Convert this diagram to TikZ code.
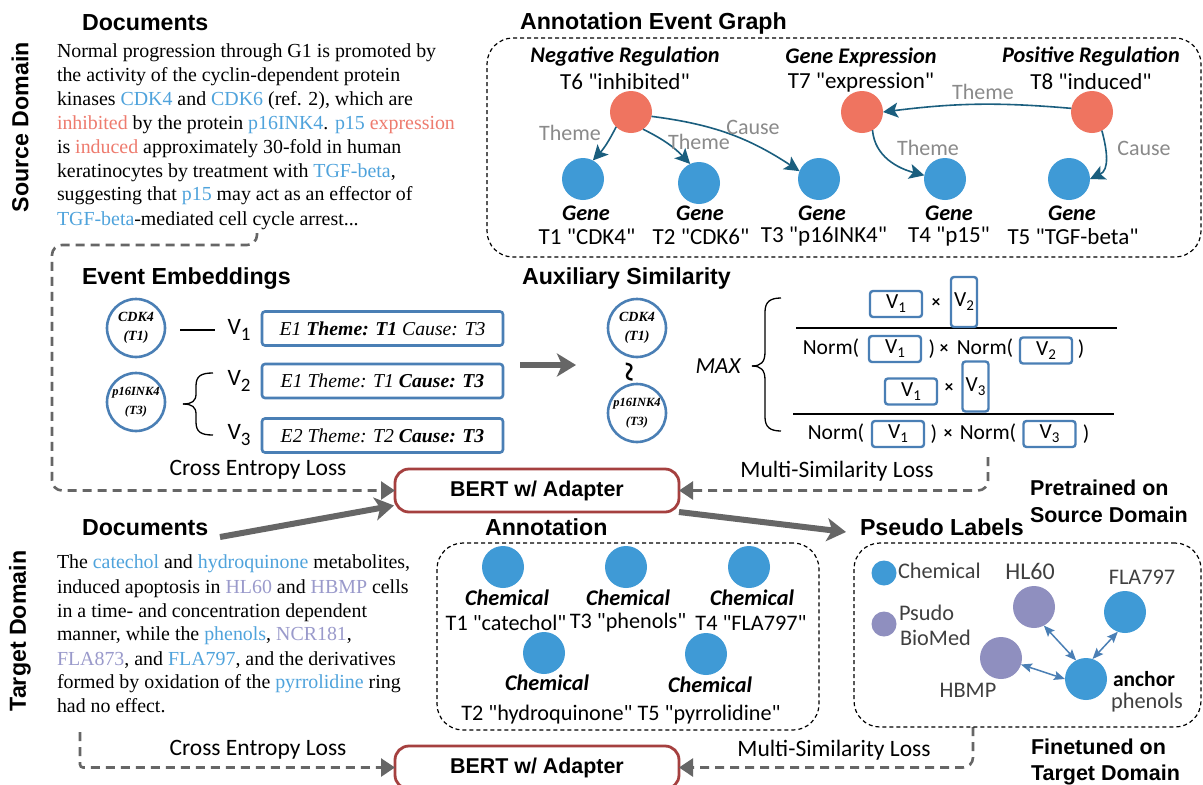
\documentclass[tikz,border=0pt]{standalone}
\usepackage{fontspec}
\setmainfont{Liberation Serif}
\newfontfamily\hdrfont{Liberation Sans}
\newfontfamily\comicfont{Carlito}
\usetikzlibrary{arrows.meta,calc}
\definecolor{cblue}{HTML}{3F9AD6}
\definecolor{cred}{HTML}{EF7460}
\definecolor{cpurple}{HTML}{8F8FBF}
\definecolor{tblue}{HTML}{4FA3DC}
\definecolor{tred}{HTML}{EE7B6E}
\definecolor{tpurple}{HTML}{9A9ACB}
\definecolor{edgeteal}{HTML}{1A5E7E}
\definecolor{boxblue}{HTML}{4A7FB5}
\definecolor{bertred}{HTML}{A5403F}
\definecolor{dgrey}{HTML}{666666}
\definecolor{lblgrey}{HTML}{8A8A8A}
\newcommand{\tb}[1]{\textcolor{tblue}{#1}}
\newcommand{\tr}[1]{\textcolor{tred}{#1}}
\newcommand{\tp}[1]{\textcolor{tpurple}{#1}}
\newcommand{\Vv}[1]{V\raisebox{-4pt}{\fontsize{15}{15}\selectfont #1}}
\newcommand{\Vb}[1]{V\raisebox{-6pt}{\fontsize{19}{19}\selectfont #1}}
\tikzset{
  every node/.style={inner sep=0pt,outer sep=0pt},
  hdr/.style={font=\hdrfont\bfseries\fontsize{23.2}{25}\selectfont,anchor=base west},
  hdrb/.style={font=\hdrfont\bfseries\fontsize{21.5}{23}\selectfont,anchor=base west},
  domlabel/.style={font=\hdrfont\bfseries\fontsize{23.2}{25}\selectfont,rotate=90},
  docline/.style={font=\fontsize{19.9}{21}\selectfont,anchor=base west},
  comic/.style={font=\comicfont\fontsize{21.5}{23}\selectfont},
  comicg/.style={font=\comicfont\fontsize{23}{25}\selectfont},
  comica/.style={font=\comicfont\fontsize{22.2}{24}\selectfont},
  comicl/.style={font=\comicfont\fontsize{23.5}{25}\selectfont},
  comicp/.style={font=\comicfont\fontsize{22.3}{24}\selectfont,text=black!75},
  typed/.style={font=\comicfont\bfseries\itshape\fontsize{22.3}{24}\selectfont},
  elabel/.style={font=\comicfont\fontsize{22}{24}\selectfont,text=lblgrey},
  evnode/.style={circle,fill=cred,minimum size=42pt},
  gnode/.style={circle,fill=cblue,minimum size=42pt},
  pnode/.style={circle,fill=cpurple,minimum size=42pt},
  evedge/.style={draw=edgeteal,line width=1.6pt,-{Stealth[length=15pt,width=15pt,inset=3.5pt]}},
  dbl/.style={draw=boxblue,line width=1.5pt,{Stealth[length=11pt,width=9pt,inset=2pt]}-{Stealth[length=11pt,width=9pt,inset=2pt]}},
  ent/.style={circle,draw=boxblue,line width=2.6pt,minimum size=58pt,align=center,font=\bfseries\itshape\fontsize{14}{19}\selectfont},
  entsm/.style={ent,font=\bfseries\itshape\fontsize{12.5}{19}\selectfont},
  evbox/.style={rectangle,rounded corners=3pt,draw=boxblue,line width=2.6pt,minimum width=241pt,minimum height=34pt,font=\itshape\fontsize{19.7}{22}\selectfont},
  vbox/.style={rectangle,rounded corners=3pt,draw=boxblue,line width=2.4pt,minimum width=52pt,minimum height=26pt,comic},
  vtall/.style={rectangle,rounded corners=3pt,draw=boxblue,line width=2.4pt,minimum width=26pt,minimum height=50pt,comic},
  bert/.style={rectangle,rounded corners=14pt,draw=bertred,line width=2.8pt,fill=white,minimum width=284pt,minimum height=43pt,font=\hdrfont\bfseries\fontsize{21.4}{23}\selectfont},
  dashbox/.style={rectangle,rounded corners=26pt,draw=black,line width=1.2pt,dash pattern=on 4pt off 3pt},
  dashflow/.style={draw=dgrey,line width=2.6pt,dash pattern=on 9pt off 6pt,rounded corners=10pt,-{Triangle[length=14pt,width=18pt]}},
  bigarrow/.style={draw=dgrey,line width=6pt,-{Stealth[length=19pt,width=23pt,inset=5pt]}},
  bracepath/.style={draw=black,line width=1.3pt},
  rulepath/.style={draw=black,line width=1.3pt},
  sym/.style={font=\comicfont\bfseries\fontsize{17}{18}\selectfont},
}
\begin{document}
\begin{tikzpicture}[x=1pt,y=-1pt]
\useasboundingbox (0,0) rectangle (1203,785);
\clip (0,0) rectangle (1203,785);
\fill[white] (0,0) rectangle (1203,785);
% domain labels
\node[domlabel] (srcdom) at (20,127) {Source Domain};
\node[domlabel] (tgtdom) at (20,631) {Target Domain};
% headers
\node[hdr] (h1) at (82,30) {Documents};
\node[hdr] (h2) at (520,29) {Annotation Event Graph};
\node[hdr] (h3) at (82,284) {Event Embeddings};
\node[hdr] (h4) at (522,284) {Auxiliary Similarity};
\node[hdr] (h5) at (82,535) {Documents};
\node[hdr] (h6) at (485,535) {Annotation};
\node[hdr] (h7) at (860,535) {Pseudo Labels};
\node[hdrb] (h8) at (1030,495) {Pretrained on};
\node[hdrb] (h9) at (1030,522) {Source Domain};
\node[hdrb] (h10) at (1031,754) {Finetuned on};
\node[hdrb] (h11) at (1031,780) {Target Domain};
% source document
\node[docline] (s1) at (57,57) {Normal progression through G1 is promoted by};
\node[docline] (s2) at (57,81) {the activity of the cyclin-dependent protein};
\node[docline] (s3) at (57,105.5) {kinases \tb{CDK4} and \tb{CDK6} (ref. 2), which are};
\node[docline] (s4) at (57,129) {\tr{inhibited} by the protein \tb{p16INK4}. \tb{p15} \tr{expression}};
\node[docline] (s5) at (57,153) {is \tr{induced} approximately 30-fold in human};
\node[docline] (s6) at (57,177) {keratinocytes by treatment with \tb{TGF-beta},};
\node[docline] (s7) at (57,200) {suggesting that \tb{p15} may act as an effector of};
\node[docline] (s8) at (57,225) {\tb{TGF-beta}-mediated cell cycle arrest...};
% target document
\node[docline] (t1) at (57,568) {The \tb{catechol} and \tb{hydroquinone} metabolites,};
\node[docline] (t2) at (57,593) {induced apoptosis in \tp{HL60} and \tp{HBMP} cells};
\node[docline] (t3) at (57,617) {in a time- and concentration dependent};
\node[docline] (t4) at (57,640) {manner, while the \tb{phenols}, \tp{NCR181},};
\node[docline] (t5) at (57,665) {\tp{FLA873}, and \tb{FLA797}, and the derivatives};
\node[docline] (t6) at (57,688) {formed by oxidation of the \tb{pyrrolidine} ring};
\node[docline] (t7) at (57,712) {had no effect.};
% annotation event graph
\node[dashbox,minimum width=714pt,minimum height=219pt] (agbox) at (844,147.5) {};
\node[evnode] (e6) at (631,112) {};
\node[evnode] (e7) at (862,112) {};
\node[evnode] (e8) at (1092,112) {};
\node[gnode] (g1) at (583,179) {};
\node[gnode] (g2) at (699,183) {};
\node[gnode] (g3) at (819,179) {};
\node[gnode] (g4) at (945,179) {};
\node[gnode] (g5) at (1069,179) {};
\node[typed] (n6) at (625,57) {Negative Regulation};
\node[typed] (n7) at (861,57) {Gene Expression};
\node[typed] (n8) at (1091,57) {Positive Regulation};
\node[comicg] (m6) at (625,82) {T6 "inhibited"};
\node[comicg] (m7) at (861,82) {T7 "expression"};
\node[comicg] (m8) at (1091,82) {T8 "induced"};
\node[typed] (gt1) at (586,213) {Gene};
\node[typed] (gt2) at (700,213) {Gene};
\node[typed] (gt3) at (822,213) {Gene};
\node[typed] (gt4) at (949,213) {Gene};
\node[typed] (gt5) at (1072,213) {Gene};
\node[comicg] (gm1) at (587,237) {T1 "CDK4"};
\node[comicg] (gm2) at (701,237) {T2 "CDK6"};
\node[comicg] (gm3) at (824,237) {T3 "p16INK4"};
\node[comicg] (gm4) at (949,237) {T4 "p15"};
\node[comicg] (gm5) at (1073,237) {T5 "TGF-beta"};
\draw[evedge] (e6.225) to[bend left=8] (g1.62);
\draw[evedge] (e6.305) to[bend left=10] (g2.115);
\draw[evedge] (e6.-12) to[bend left=13] (g3.158);
\draw[evedge] (e8.170) to[bend right=6] (e7.east);
\draw[evedge] (e7.-60) to[out=-85,in=165] (g4.170);
\draw[evedge] (e8.-62) to[out=-75,in=25,looseness=1.1] (g5.east);
\node[elabel] (l1) at (570,133) {Theme};
\node[elabel] (l2) at (699,142) {Theme};
\node[elabel] (l3) at (753,127) {Cause};
\node[elabel] (l4) at (983,92) {Theme};
\node[elabel] (l5) at (928,148) {Theme};
\node[elabel] (l6) at (1144,148) {Cause};
% event embeddings
\node[ent] (c1) at (136,328) {CDK4\\(T1)};
\node[entsm] (c3) at (136,402) {p16INK4\\(T3)};
\node[comicl] (v1) at (239,330) {\Vb{1}};
\node[comicl] (v2) at (239,381) {\Vb{2}};
\node[comicl] (v3) at (239,435) {\Vb{3}};
\node[evbox] (b1) at (382.5,328.5) {E1 \textbf{Theme: T1} Cause: T3};
\node[evbox] (b2) at (382.5,381) {E1 Theme: T1 \textbf{Cause: T3}};
\node[evbox] (b3) at (382.5,435.5) {E2 Theme: T2 \textbf{Cause: T3}};
\draw[black,line width=1.3pt] ($(c1.east)+(15,2)$) -- ($(v1.west)+(-13,0)$);
\draw[bracepath] (213,373) .. controls (201,373) and (196,376) .. (196,386) -- (196,394) .. controls (196,401) and (192,404) .. (183,404);
\draw[bracepath] (213,435) .. controls (201,435) and (196,432) .. (196,422) -- (196,414) .. controls (196,407) and (192,404) .. (183,404);
\coordinate (sa) at (520,365);
\coordinate (sb) at (576,365);
\draw[bigarrow] (sa) -- (sb);
\node[ent] (c1b) at (637,328) {CDK4\\(T1)};
\node[entsm] (c3b) at (637,413) {p16INK4\\(T3)};
\node[rotate=90,font=\bfseries\fontsize{36}{36}\selectfont] (tilde) at (634,372) {\char`\~};
% similarity formula
\node[font=\comicfont\itshape\fontsize{23}{25}\selectfont] (mx) at (718,366) {MAX};
\draw[bracepath] (781,298) .. controls (770,298) and (765,302) .. (765,312) -- (765,352) .. controls (765,362) and (761,366) .. (752,366);
\draw[bracepath] (781,431) .. controls (770,431) and (765,427) .. (765,417) -- (765,380) .. controls (765,370) and (761,366) .. (752,366);
\draw[rulepath] (796,328) -- (1117,328);
\draw[rulepath] (793,414) -- (1114,414);
\node[vbox] (f1) at (896,304) {\Vv{1}};
\node[sym] (fx1) at (936,303) {×};
\node[vtall] (f2) at (964,302) {\Vv{2}};
\node[comic] (fn1) at (831,348) {Norm(};
\node[vbox] (f3) at (895,349) {\Vv{1}};
\node[comic] (fc1) at (932,349) {)};
\node[sym] (fx2) at (944,349) {×};
\node[comic] (fn2) at (985,348) {Norm(};
\node[vbox] (f4) at (1046,350.5) {\Vv{2}};
\node[comic] (fc2) at (1081,349) {)};
\node[vbox] (f5) at (911,391.5) {\Vv{1}};
\node[sym] (fx3) at (949,388) {×};
\node[vtall] (f6) at (975.5,386.5) {\Vv{3}};
\node[comic] (fn3) at (836,433) {Norm(};
\node[vbox] (f7) at (898,434) {\Vv{1}};
\node[comic] (fc3) at (934,434) {)};
\node[sym] (fx4) at (948,434) {×};
\node[comic] (fn4) at (988,433) {Norm(};
\node[vbox] (f8) at (1049.5,434) {\Vv{3}};
\node[comic] (fc4) at (1086,434) {)};
% BERT
\node[bert] (bert1) at (537,490.5) {\raisebox{-1pt}{BERT w/ Adapter}};
\node[bert] (bert2) at (537,767.5) {\raisebox{-2pt}{BERT w/ Adapter}};
\node[comicl] (ce1) at (258,470) {Cross Entropy Loss};
\node[comicl] (ms1) at (837,471) {Multi-Similarity Loss};
\node[comicl] (ce2) at (258,750) {Cross Entropy Loss};
\node[comicl] (ms2) at (834,750) {Multi-Similarity Loss};
\coordinate (srcout) at (257,233);
\coordinate (srccor) at (257,245);
\coordinate (srccor2) at (52,245);
\coordinate (srccor3) at (52,490.5);
\draw[dashflow] (srcout) -- (srccor) -- (srccor2) -- (srccor3) -- (bert1.west);
\coordinate (simout) at (988,457);
\coordinate (simcor) at (988,490.5);
\draw[dashflow] (simout) -- (simcor) -- (bert1.east);
\coordinate (tgtout) at (80,732);
\coordinate (tgtcor) at (80,767.5);
\draw[dashflow,rounded corners=3pt] (tgtout) -- (tgtcor) -- (bert2.west);
\coordinate (plout) at (973,727);
\coordinate (plcor) at (973,767.5);
\draw[dashflow] (plout) -- (plcor) -- (bert2.east);
\coordinate (docsout) at (220,537);
\coordinate (plin) at (846,532);
\draw[bigarrow] (docsout) -- ($(bert1.west)+(-1,15)$);
\draw[bigarrow] (bert1.south east) -- (plin);
% target annotation
\node[dashbox,minimum width=382pt,minimum height=187pt] (anbox) at (628,636.5) {};
\node[gnode] (a1) at (503,567) {};
\node[gnode] (a3) at (626,567) {};
\node[gnode] (a4) at (749,567) {};
\node[gnode] (a2) at (544,653) {};
\node[gnode] (a5) at (706,654) {};
\node[typed] (at1) at (507,598) {Chemical};
\node[typed] (at3) at (628,598) {Chemical};
\node[typed] (at4) at (752,598) {Chemical};
\node[typed] (at2) at (547,683) {Chemical};
\node[typed] (at5) at (710,685) {Chemical};
\node[comica] (am1) at (506,623) {T1 "catechol"};
\node[comica] (am3) at (628,623) {T3 "phenols"};
\node[comica] (am4) at (751,623) {T4 "FLA797"};
\node[comica] (am2) at (547,715) {T2 "hydroquinone"};
\node[comica] (am5) at (709,715) {T5 "pyrrolidine"};
% pseudo labels
\node[dashbox,minimum width=347pt,minimum height=184pt] (plbox) at (1027.5,635) {};
\node[circle,fill=cblue,minimum size=25pt] (legc) at (884,573) {};
\node[circle,fill=cpurple,minimum size=25pt] (legp) at (884,624) {};
\node[comicp,anchor=west] (lt1) at (898,571) {Chemical};
\node[comicp,anchor=west] (lt2) at (899,613) {Psudo};
\node[comicp,anchor=west] (lt3) at (900,638) {BioMed};
\node[pnode] (hl) at (1034,607) {};
\node[gnode] (fla) at (1125,612) {};
\node[pnode] (hb) at (1001,658) {};
\node[gnode] (an) at (1086,679) {};
\node[comicp,font=\comicfont\fontsize{24}{26}\selectfont] (hlt) at (1030,571) {HL60};
\node[comicp] (flt) at (1142,577) {FLA797};
\node[comicp] (hbt) at (968,690) {HBMP};
\node[font=\comicfont\bfseries\fontsize{21.5}{23}\selectfont] (ant) at (1144,679) {anchor};
\node[comicp] (phe) at (1147,703) {phenols};
\draw[dbl] (hl.-62) -- (an.118);
\draw[dbl] (fla.-110) -- (an.72);
\draw[dbl] (hb.-18) -- (an.180);
\end{tikzpicture}
\end{document}
